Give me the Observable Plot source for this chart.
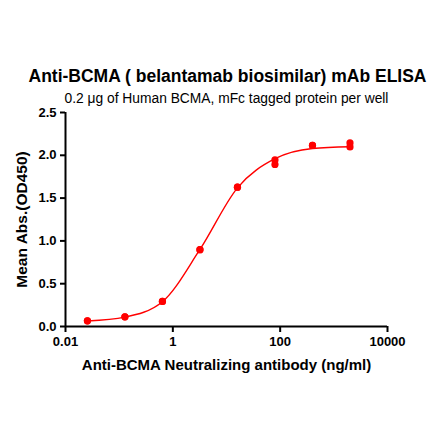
<!DOCTYPE html>
<html>
<head>
<meta charset="utf-8">
<script src="https://cdn.jsdelivr.net/npm/d3@7"></script>
<script src="https://cdn.jsdelivr.net/npm/@observablehq/plot@0.6"></script>
<style>
  body { margin: 0; background: #fff; font-family: "Liberation Sans", Arial, sans-serif; }
  #wrap { position: relative; width: 440px; height: 441px; }
  #chart { position: absolute; top: 100px; left: 0; }
  #title { position: absolute; top: 66px; left: 0; width: 455px; text-align: center; font-weight: bold; font-size: 17.5px; }
  #subtitle { position: absolute; top: 91px; left: 0; width: 453px; text-align: center; font-size: 13.8px; }
</style>
</head>
<body>
<div id="wrap">
  <div id="chart"></div>
  <div id="title">Anti-BCMA ( belantamab biosimilar) mAb ELISA</div>
  <div id="subtitle">0.2 μg of Human BCMA, mFc tagged protein per well</div>
</div>
<script>
// antibody concentration, 5-fold dilution (ng/ml)
const conc = [0.0256, 0.128, 0.64, 3.2, 16, 80, 400, 2000]
// duplicate OD450 readings
const rep1 = [0.066, 0.113, 0.293, 0.898, 1.628, 1.946, 2.115, 2.145]
const rep2 = [0.066, 0.113, 0.293, 0.898, 1.628, 1.893, 2.115, 2.098]
// fitted curve
const fit = [0.065, 0.11, 0.29, 0.90, 1.62, 1.96, 2.08, 2.10]
const xTicks = [0.01, 1, 100, 10000]
const yTicks = [0, 0.5, 1, 1.5, 2, 2.5]

const points = conc.flatMap((c, i) => [{c, od: rep1[i]}, {c, od: rep2[i]}])
const curve = conc.map((c, i) => ({c, od: fit[i]}))

const red = '#ff0000'

let chart = Plot.plot({
  width: 440,
  height: 288,
  marginLeft: 65,
  marginRight: 53,
  marginTop: 12,
  marginBottom: 62,
  style: {
    fontFamily: '"Liberation Sans", Arial, sans-serif',
    fontSize: 13,
    fontWeight: 'bold',
    color: '#000',
    background: 'transparent',
    overflow: 'visible',
  },
  x: {type: 'log', domain: [0.01, 10000]},
  y: {domain: [0, 2.5]},
  marks: [
    Plot.axisX({
      ticks: xTicks,
      tickFormat: d => String(d),
      tickSize: 6,
      tickPadding: 4,
      strokeWidth: 2,
      label: null,
    }),
    Plot.axisX({
      ticks: [],
      label: 'Anti-BCMA Neutralizing antibody (ng/ml)',
      labelAnchor: 'center',
      labelArrow: false,
      labelOffset: 43,
      fontSize: 15,
    }),
    Plot.axisY({
      ticks: yTicks,
      tickFormat: d3.format('.1f'),
      tickSize: 5,
      tickPadding: 4,
      strokeWidth: 2,
      label: null,
    }),
    Plot.axisY({
      ticks: [],
      label: 'Mean Abs.(OD450)',
      labelAnchor: 'center',
      labelArrow: false,
      labelOffset: 50,
      fontSize: 15.5,
    }),
    Plot.ruleY([0], {stroke: '#000', strokeWidth: 2}),
    Plot.ruleX([0.01], {stroke: '#000', strokeWidth: 2}),
    Plot.line(curve, {x: 'c', y: 'od', stroke: red, strokeWidth: 1.4, curve: 'monotone-x'}),
    Plot.dot(points, {x: 'c', y: 'od', fill: red, r: 3.6}),
  ],
})
d3.select('#chart').append(() => chart)
</script>
</body>
</html>
